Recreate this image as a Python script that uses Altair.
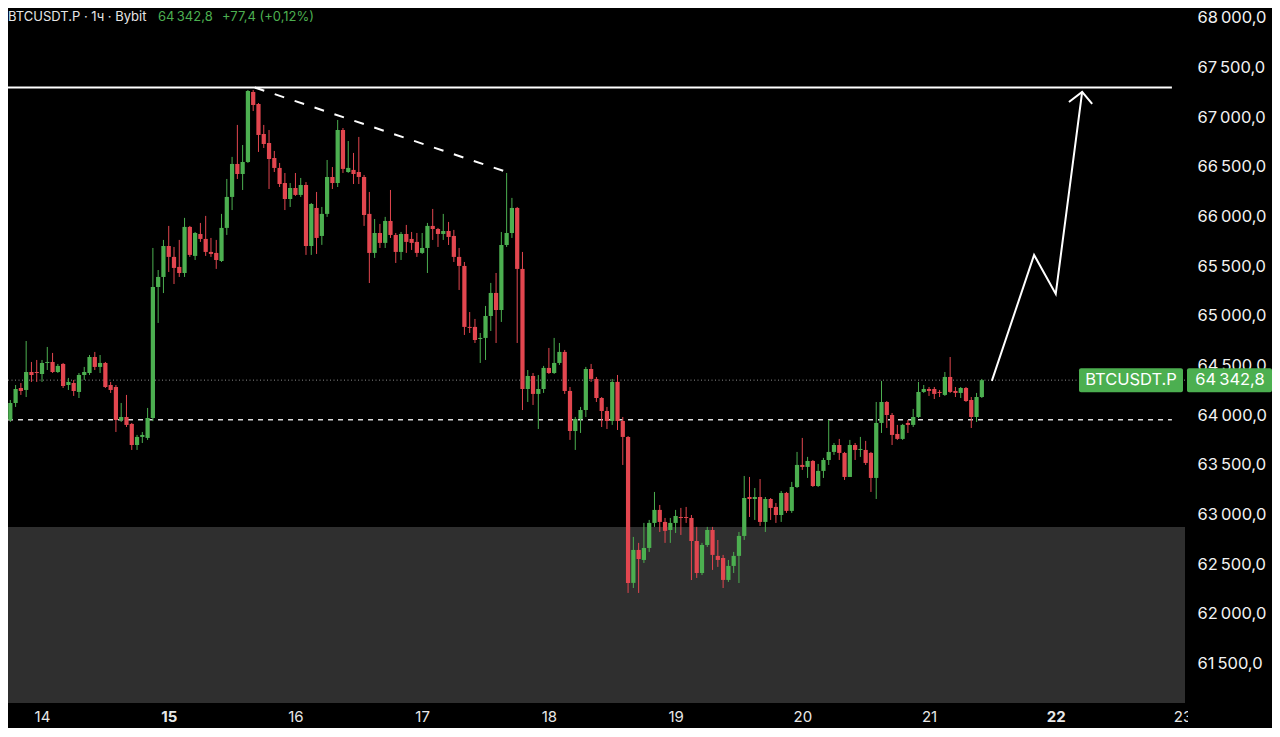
import altair as alt
import pandas as pd

GREEN = "#4caf50"
RED = "#e2464f"
FONT = "Inter"

# hourly candles, hour index counted from the 14th 00:00
start_hour = -8
opens = [
    64264, 64073, 63942, 64113, 64264, 64244, 64425, 64425, 64405, 64516,
    64526, 64425, 64506, 64294, 64314, 64224, 64395, 64415, 64576, 64476,
    64516, 64294, 64274, 63942, 63972, 63902, 63690, 63771, 63761, 63962,
    65281, 65382, 65694, 65584, 65483, 65422, 65886, 65594, 65815, 65765,
    65634, 65624, 65543, 65876, 66188, 66520, 66419, 66540, 67245, 67124,
    66822, 66731, 66580, 66480, 66328, 66167, 66278, 66208, 66308, 65694,
    66077, 65795, 66017, 66389, 66328, 66862, 66439, 66460, 66439, 66389,
    66017, 65624, 65825, 65725, 65946, 65805, 65634, 65815, 65765, 65735,
    65624, 65674, 65896, 65865, 65815, 65845, 65795, 65584, 65493, 64879,
    64879, 64757, 64768, 64989, 65221, 65049, 65704, 65825, 66077, 65463,
    64254, 64385, 64204, 64254, 64466, 64415, 64516, 64627, 64234, 63831,
    63952, 64042, 64455, 64355, 64163, 64032, 63932, 64325, 63932, 63771,
    62301, 62633, 62532, 62653, 62905, 63036, 62915, 62834, 62905, 62965,
    62965, 62955, 62723, 62401, 62683, 62834, 62573, 62552, 62331, 62472,
    62573, 62774, 63166, 63146, 63166, 62915, 63146, 63066, 62985, 63207,
    63026, 63267, 63489, 63469, 63529, 63277, 63429, 63539, 63620, 63690,
    63610, 63368, 63690, 63640, 63640, 63610, 63358, 63912, 64123, 63992,
    63801, 63751, 63912, 63892, 63972, 64224, 64254, 64254, 64224, 64194,
    64375, 64234, 64214, 64264, 64143, 63972, 64173,
]
highs = [
    64284, 64093, 64143, 64294, 64314, 64737, 64526, 64546, 64546, 64677,
    64617, 64506, 64516, 64365, 64345, 64415, 64476, 64596, 64627, 64596,
    64526, 64325, 64294, 64113, 64194, 63912, 63791, 63821, 64063, 65674,
    65452, 65755, 65896, 65684, 65755, 65977, 65896, 65835, 65926, 65997,
    65775, 65755, 66017, 66369, 66591, 66913, 66711, 67265, 67265, 67134,
    66913, 66862, 66651, 66530, 66429, 66328, 66429, 66379, 66338, 66127,
    66238, 66087, 66560, 66489, 66963, 66882, 66751, 66631, 66792, 66409,
    66238, 65966, 65916, 65987, 66258, 65825, 65835, 65906, 65835, 65825,
    65825, 65926, 66067, 65876, 66017, 65936, 65856, 65674, 65533, 65029,
    64959, 64818, 65090, 65322, 65422, 65835, 66429, 66178, 66087, 65634,
    64445, 64415, 64395, 64486, 64667, 64768, 64717, 64647, 64274, 63972,
    64073, 64476, 64506, 64375, 64173, 64073, 64355, 64395, 63972, 63780,
    62764, 62704, 62905, 62935, 63217, 63086, 62955, 62955, 63036, 63056,
    63066, 62985, 62865, 62704, 62865, 62865, 62733, 62583, 62532, 62613,
    62814, 63378, 63368, 63257, 63347, 63166, 63156, 63106, 63227, 63217,
    63318, 63620, 63761, 63570, 63539, 63499, 63560, 63942, 63710, 63751,
    63620, 63741, 63710, 63771, 63731, 63620, 64123, 64335, 64133, 64012,
    63892, 63902, 63942, 64053, 64325, 64294, 64274, 64274, 64244, 64425,
    64576, 64274, 64274, 64274, 64173, 64214, 64355,
]
lows = [
    63871, 63871, 63922, 64073, 64194, 64173, 64325, 64325, 64325, 64445,
    64415, 64415, 64264, 64244, 64184, 64163, 64345, 64395, 64445, 64415,
    64264, 64214, 63821, 63922, 63871, 63640, 63640, 63710, 63741, 63930,
    64919, 65220, 65432, 65311, 65382, 65382, 65584, 65553, 65735, 65594,
    65584, 65463, 65533, 65805, 66056, 66369, 66258, 66530, 67053, 66641,
    66681, 66268, 66439, 66288, 66056, 66087, 66198, 66188, 65604, 65604,
    65614, 65705, 65987, 66268, 66288, 66429, 66430, 66318, 66318, 65896,
    65321, 65574, 65674, 65674, 65775, 65523, 65553, 65624, 65654, 65584,
    65614, 65422, 65755, 65684, 65755, 65704, 65533, 65251, 64798, 64818,
    64717, 64516, 64546, 64838, 64717, 64929, 65684, 65775, 64717, 64042,
    64123, 64093, 63851, 64214, 64405, 64405, 64496, 64204, 63741, 63640,
    63811, 63972, 64325, 64123, 63871, 63851, 63892, 63841, 63489, 62200,
    62250, 62200, 62502, 62613, 62865, 62814, 62704, 62704, 62804, 62784,
    62905, 62330, 62351, 62380, 62663, 62432, 62462, 62250, 62311, 62401,
    62300, 62734, 62965, 62935, 62875, 62814, 62935, 62905, 62915, 63006,
    63006, 63257, 63439, 63358, 63267, 63267, 63358, 63489, 63590, 63539,
    63338, 63368, 63539, 63570, 63489, 63217, 63146, 63811, 63861, 63690,
    63741, 63741, 63811, 63871, 63962, 64214, 64184, 64153, 64173, 64184,
    64214, 64173, 64163, 64123, 63861, 63922, 64163,
]
closes = [
    63942, 63942, 64113, 64254, 64234, 64425, 64395, 64415, 64516, 64526,
    64425, 64486, 64284, 64325, 64234, 64395, 64425, 64576, 64476, 64516,
    64274, 64244, 63942, 63972, 63892, 63690, 63771, 63791, 63962, 65281,
    65382, 65694, 65584, 65473, 65422, 65886, 65604, 65825, 65765, 65634,
    65614, 65553, 65876, 66188, 66520, 66419, 66540, 67255, 67114, 66812,
    66721, 66570, 66480, 66318, 66167, 66278, 66208, 66308, 65694, 66117,
    65775, 66017, 66389, 66328, 66862, 66470, 66480, 66419, 66389, 66006,
    65624, 65825, 65725, 65946, 65805, 65634, 65815, 65735, 65725, 65624,
    65674, 65896, 65865, 65815, 65845, 65785, 65584, 65493, 64879, 64869,
    64747, 64768, 64989, 65221, 65049, 65704, 65825, 66077, 65463, 64254,
    64385, 64204, 64254, 64466, 64415, 64516, 64627, 64234, 63831, 63952,
    64042, 64455, 64355, 64163, 64032, 63932, 64325, 63932, 63771, 62301,
    62633, 62542, 62653, 62905, 63036, 62915, 62825, 62905, 62975, 62955,
    62955, 62723, 62401, 62683, 62834, 62583, 62532, 62331, 62472, 62573,
    62774, 63156, 63146, 63166, 62915, 63146, 63056, 62985, 63207, 63026,
    63267, 63489, 63469, 63529, 63277, 63429, 63539, 63620, 63690, 63610,
    63368, 63690, 63640, 63650, 63509, 63358, 63912, 64123, 63992, 63791,
    63751, 63892, 63892, 63972, 64224, 64254, 64234, 64204, 64214, 64375,
    64224, 64214, 64264, 64133, 63972, 64173, 64342.8,
]
hours = list(range(start_hour, start_hour + len(closes)))

day_ticks = [0, 24, 48, 72, 96, 120, 144, 168, 192, 216]
price_ticks = list(range(61500, 68001, 500))

resistance = 67290
support = 63945
last_price = 64342.8
zone_top = 62865
trend_t = [40.3, 88.6]
trend_p = [67290, 66429]
arrow_t = [179.9, 187.9, 192.0, 197.0]
arrow_p = [64335, 65604, 65211, 67245]
head_t = [194.5, 197.0, 198.9]
head_p = [67144, 67245, 67124]
line_end = 214.0

W, H = 1177, 695
T_MIN, T_MAX = -6.44, 216.48
P_MIN, P_MAX = 61091.6, 68090.6

df = pd.DataFrame({"t": hours, "o": opens, "hi": highs, "lo": lows, "c": closes})
df["dir"] = ["up" if c >= o else "down" for o, c in zip(opens, closes)]
df["t0"] = df["t"] - 0.4
df["t1"] = df["t"] + 0.4

xs = alt.Scale(domain=[T_MIN, T_MAX], nice=False, zero=False)
ys = alt.Scale(domain=[P_MIN, P_MAX], nice=False, zero=False)
col = alt.Color("dir:N", scale=alt.Scale(domain=["up", "down"], range=[GREEN, RED]), legend=None)

x_axis = alt.Axis(
    values=day_ticks,
    labelExpr="toString(14 + datum.value / 24)",
    labelColor="#e8e8e8",
    labelFont=FONT,
    labelFontSize=15,
    labelFontWeight={"condition": {"test": "datum.value == 24 || datum.value == 192", "value": "bold"}, "value": "normal"},
    labelPadding=6,
    labelFlush=False,
    labelOverlap=False,
    ticks=False,
    tickSize=0,
    domain=False,
    grid=False,
    title=None,
)
y_axis = alt.Axis(
    orient="right",
    values=price_ticks,
    labelExpr="replace(replace(format(datum.value, ',.1f'), ',', '\u2009'), '.', ',')",
    labelColor="#f2f2f2",
    labelFont=FONT,
    labelFontSize=16.5,
    labelAlign="left",
    labelBaseline="middle",
    labelPadding=12,
    labelOffset=1,
    labelFlush=False,
    labelOverlap=False,
    ticks=False,
    tickSize=0,
    domain=False,
    grid=False,
    title=None,
)


def X(field):
    return alt.X(field, scale=xs, axis=x_axis)


def Y(field):
    return alt.Y(field, scale=ys, axis=y_axis)


def YD(value):
    return alt.YDatum(value, scale=ys, axis=y_axis)


one = pd.DataFrame({"k": [0]})

zone = alt.Chart(one).mark_rect(color="#2f2f2f").encode(
    x=alt.value(0), x2=alt.value(W), y=YD(zone_top), y2=alt.value(H),
)

wicks = alt.Chart(df).mark_rule(strokeWidth=1, clip=True).encode(
    x=X("t:Q"), y=Y("lo:Q"), y2="hi:Q", color=col,
)
bodies = alt.Chart(df).mark_rect(clip=True).encode(
    x=X("t0:Q"), x2="t1:Q", y=Y("o:Q"), y2="c:Q", color=col,
)

hl = pd.DataFrame({"t0": [T_MIN], "t1": [line_end], "p": [support]})
support_line = alt.Chart(hl).mark_rule(color="#dcdcdc", strokeWidth=1.5, strokeDash=[5, 5]).encode(
    x=X("t0:Q"), x2="t1:Q", y=Y("p:Q")
)
lp = pd.DataFrame({"t0": [T_MIN], "t1": [T_MAX], "p": [last_price]})
last_line = alt.Chart(lp).mark_rule(color="#8c8c8c", strokeWidth=1, strokeDash=[1, 2.5]).encode(
    x=X("t0:Q"), x2="t1:Q", y=Y("p:Q")
)
rl = pd.DataFrame({"t0": [T_MIN], "t1": [line_end], "p": [resistance]})
res_line = alt.Chart(rl).mark_rule(color="#ffffff", strokeWidth=2).encode(
    x=X("t0:Q"), x2="t1:Q", y=Y("p:Q")
)
tl = pd.DataFrame({"t0": [trend_t[0]], "t1": [trend_t[1]], "p0": [trend_p[0]], "p1": [trend_p[1]]})
trend_line = alt.Chart(tl).mark_rule(color="#ffffff", strokeWidth=2, strokeDash=[10, 11]).encode(
    x=X("t0:Q"), x2="t1:Q", y=Y("p0:Q"), y2="p1:Q",
)

ad = pd.DataFrame({"t": arrow_t, "p": arrow_p, "i": list(range(len(arrow_t)))})
arrow = alt.Chart(ad).mark_line(color="#ffffff", strokeWidth=2).encode(
    x=X("t:Q"), y=Y("p:Q"), order="i:Q"
)
hd = pd.DataFrame({"t": head_t, "p": head_p, "i": list(range(len(head_t)))})
head = alt.Chart(hd).mark_line(color="#ffffff", strokeWidth=2).encode(
    x=X("t:Q"), y=Y("p:Q"), order="i:Q"
)

box1 = alt.Chart(one).mark_rect(color=GREEN, cornerRadius=2).encode(
    x=alt.value(1071), x2=alt.value(1175),
    y=YD(last_price + 121), y2=alt.Y2Datum(last_price - 121),
)
box2 = alt.Chart(one).mark_rect(color=GREEN, cornerRadius=2).encode(
    x=alt.value(1179), x2=alt.value(1264),
    y=YD(last_price + 121), y2=alt.Y2Datum(last_price - 121),
)
box1_text = alt.Chart(one).mark_text(color="#ffffff", font=FONT, fontSize=16.5, align="center", baseline="middle").encode(
    x=alt.value(1123), y=YD(last_price), text=alt.value("BTCUSDT.P")
)
box2_text = alt.Chart(one).mark_text(color="#ffffff", font=FONT, fontSize=16.5, align="center", baseline="middle").encode(
    x=alt.value(1222), y=YD(last_price), text=alt.value("64\u2009342,8")
)

hdr1 = alt.Chart(one).mark_text(color="#e6e6e6", font=FONT, fontSize=13, align="left", baseline="middle").encode(
    x=alt.value(0), y=alt.value(8.5), text=alt.value("BTCUSDT.P · 1ч · Bybit")
)
hdr2 = alt.Chart(one).mark_text(color=GREEN, font=FONT, fontSize=13, align="left", baseline="middle").encode(
    x=alt.value(150), y=alt.value(8.5), text=alt.value("64\u2009342,8")
)
hdr3 = alt.Chart(one).mark_text(color=GREEN, font=FONT, fontSize=13, align="left", baseline="middle").encode(
    x=alt.value(214), y=alt.value(8.5), text=alt.value("+77,4 (+0,12%)")
)

cover = alt.Chart(one).mark_rect(color="#000000").encode(
    x=alt.value(1180), x2=alt.value(1264), y=alt.value(H + 1), y2=alt.value(H + 25)
)

chart = alt.layer(
    zone, last_line, support_line,
    wicks, bodies, res_line, trend_line,
    arrow, head,
    box1, box2, box1_text, box2_text,
    hdr1, hdr2, hdr3, cover,
).properties(
    width=W, height=H,
    autosize=alt.AutoSizeParams(type="none"),
    padding={"left": 0, "top": 0, "right": 87, "bottom": 25},
    background="#000000",
).configure_view(strokeWidth=0)

chart.save("out.html", embed_options={"renderer": "svg", "actions": False})
